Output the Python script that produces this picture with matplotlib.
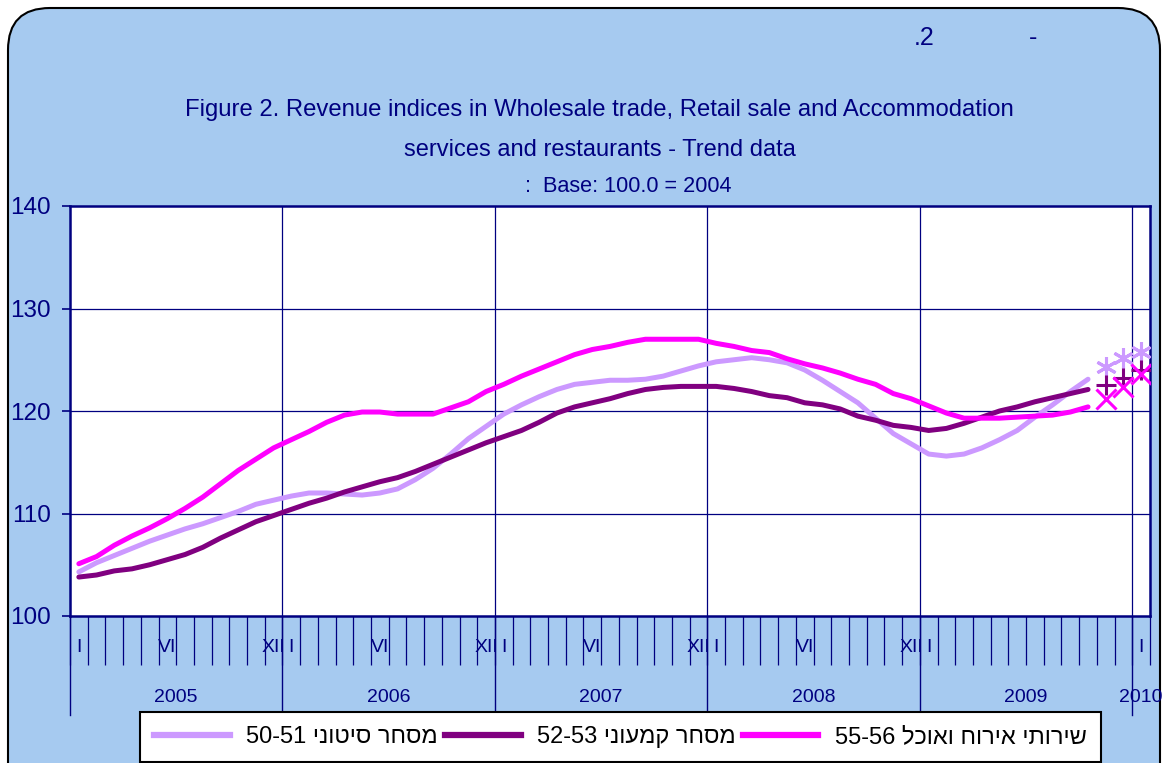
import matplotlib
matplotlib.use("Agg")
import matplotlib.pyplot as plt
from matplotlib.patches import FancyBboxPatch
from matplotlib.lines import Line2D

plt.rcParams['font.family'] = ['Liberation Sans', 'DejaVu Sans']

# monthly trend data, Jan 2005 .. Oct 2009
wholesale = [104.3, 105.2, 105.9, 106.6, 107.3, 107.9, 108.5, 109.0, 109.6, 110.2, 110.9, 111.3,
             111.7, 112.0, 112.0, 111.9, 111.8, 112.0, 112.4, 113.3, 114.4, 115.8, 117.3, 118.5,
             119.7, 120.6, 121.4, 122.1, 122.6, 122.8, 123.0, 123.0, 123.1, 123.4, 123.9, 124.4,
             124.8, 125.0, 125.2, 125.0, 124.7, 124.0, 123.0, 121.9, 120.8, 119.3, 117.8, 116.8,
             115.8, 115.6, 115.8, 116.4, 117.2, 118.1, 119.4, 120.6, 121.9, 123.1]
retail = [103.8, 104.0, 104.4, 104.6, 105.0, 105.5, 106.0, 106.7, 107.6, 108.4, 109.2, 109.8,
          110.4, 111.0, 111.5, 112.1, 112.6, 113.1, 113.5, 114.1, 114.8, 115.5, 116.2, 116.9,
          117.5, 118.1, 118.9, 119.8, 120.4, 120.8, 121.2, 121.7, 122.1, 122.3, 122.4, 122.4,
          122.4, 122.2, 121.9, 121.5, 121.3, 120.8, 120.6, 120.2, 119.5, 119.1, 118.6, 118.4,
          118.1, 118.3, 118.8, 119.4, 120.0, 120.4, 120.9, 121.3, 121.7, 122.1]
accommodation = [105.1, 105.8, 106.9, 107.8, 108.6, 109.5, 110.5, 111.6, 112.9, 114.2, 115.3, 116.4,
                 117.2, 118.0, 118.9, 119.6, 119.9, 119.9, 119.7, 119.7, 119.7, 120.3, 120.9, 121.9,
                 122.6, 123.4, 124.1, 124.8, 125.5, 126.0, 126.3, 126.7, 127.0, 127.0, 127.0, 127.0,
                 126.6, 126.3, 125.9, 125.7, 125.1, 124.6, 124.2, 123.7, 123.1, 122.6, 121.7, 121.2,
                 120.5, 119.8, 119.3, 119.3, 119.3, 119.4, 119.5, 119.6, 119.9, 120.4]

# last three months (Nov 2009 .. Jan 2010) shown as markers only
wholesale_last = [124.3, 125.2, 125.8]
retail_last = [122.5, 123.2, 124.0]
accommodation_last = [121.2, 122.3, 123.6]

years = ['2005', '2006', '2007', '2008', '2009', '2010']
# month labels per category (2009 only shows its January in the original)
month_labels = (['I', '', '', '', '', 'VI', '', '', '', '', '', 'XII'] * 4
                + ['I', '', '', '', '', '', '', '', '', '', '', '']
                + ['I'])

labels = ['מסחר סיטוני 50-51', 'מסחר קמעוני 52-53', 'שירותי אירוח ואוכל 55-56']
colors = ['#CC99FF', '#800080', '#FF00FF']
navy = '#000080'
n_months = len(month_labels)


def visual(s):
    # matplotlib has no bidi support: put the hebrew words in display order
    out = []
    for w in reversed(s.split(' ')):
        if any('\u0590' <= c <= '\u05ff' for c in w):
            out.append(w[::-1])
        else:
            out.append(w)
    return ' '.join(out)


fig = plt.figure(figsize=(11.68, 7.63), dpi=100)
fig.patch.set_facecolor('white')
bg = FancyBboxPatch((0.08, -0.5), 11.52, 8.05, boxstyle='round,pad=0,rounding_size=0.42',
                    transform=fig.dpi_scale_trans, facecolor='#A6CAF0', edgecolor='black',
                    linewidth=1.5, zorder=-10)
fig.add_artist(bg)

ax = fig.add_axes([70 / 1168, 1 - 616 / 763, 1080 / 1168, 410 / 763])
ax.set_facecolor('white')

x = list(range(len(wholesale)))
x_last = list(range(len(wholesale), len(wholesale) + 3))
series = [(wholesale, wholesale_last, (6, 2, 0)), (retail, retail_last, '+'),
          (accommodation, accommodation_last, 'x')]
for (vals, last, mk), c in zip(series, colors):
    ax.plot(x, vals, color=c, lw=3.6, solid_capstyle='round', zorder=3)
    ax.plot(x_last, last, linestyle='none', marker=mk, markersize=15, markeredgewidth=2.2,
            color=c, zorder=3)

ax.set_xlim(-0.5, n_months - 0.5)
ax.set_ylim(100, 140)
ax.set_yticks([100, 110, 120, 130, 140])
ax.tick_params(axis='y', direction='out', length=6, width=1.2, color=navy,
               labelcolor=navy, labelsize=17.5, pad=8)
ax.set_xticks([k - 0.5 for k in range(n_months + 1)])
ax.set_xticklabels([])
ax.tick_params(axis='x', direction='out', length=35, width=0.9, color=navy)
for s in ax.spines.values():
    s.set_color(navy)
    s.set_linewidth(1.8)

# grid
for v in [110, 120, 130]:
    ax.axhline(v, color=navy, lw=0.9, zorder=1)
for k in range(1, len(years)):
    ax.axvline(12 * k - 0.5, color=navy, lw=0.9, zorder=1)

# year separators below the axis
xt = ax.get_xaxis_transform()
for k in range(len(years)):
    ax.plot([12 * k - 0.5, 12 * k - 0.5], [0, -0.242], transform=xt, color=navy,
            lw=1.0, clip_on=False)

# month and year labels
for i, m in enumerate(month_labels):
    if m:
        ax.text(i, -0.078, m, transform=xt, ha='center', va='center', fontsize=14, color=navy)
for k, yr in enumerate(years):
    first = 12 * k
    last = min(12 * k + 11, n_months - 1)
    ax.text((first + last) / 2, -0.198, yr, transform=xt, ha='center', va='center',
            fontsize=14, color=navy)

# titles
fig.text(924 / 1168, 1 - 38 / 763, '.2', ha='center', va='center', fontsize=18, color=navy)
fig.text(1033 / 1168, 1 - 38 / 763, '-', ha='center', va='center', fontsize=18, color=navy)
fig.text(599 / 1168, 1 - 110 / 763,
         'Figure 2. Revenue indices in Wholesale trade, Retail sale and Accommodation',
         ha='center', va='center', fontsize=17.2, color=navy)
fig.text(600 / 1168, 1 - 150 / 763, 'services and restaurants - Trend data',
         ha='center', va='center', fontsize=17, color=navy)
fig.text(628 / 1168, 1 - 186 / 763, ':  Base: 100.0 = 2004',
         ha='center', va='center', fontsize=15.6, color=navy)

# legend
handles = [Line2D([], [], color=c, lw=4.5) for c in colors]
leg = fig.legend(handles, [visual(l) for l in labels], loc='upper left',
                 bbox_to_anchor=(140 / 1168, 1 - 712 / 763), ncol=3, fontsize=17,
                 frameon=True, fancybox=False, framealpha=1, edgecolor='black',
                 handlelength=3.2, handletextpad=0.7, columnspacing=0.3, borderaxespad=0,
                 borderpad=0.6)
leg.get_frame().set_linewidth(1.5)

fig.savefig('out.png', dpi=100, facecolor=fig.get_facecolor())
